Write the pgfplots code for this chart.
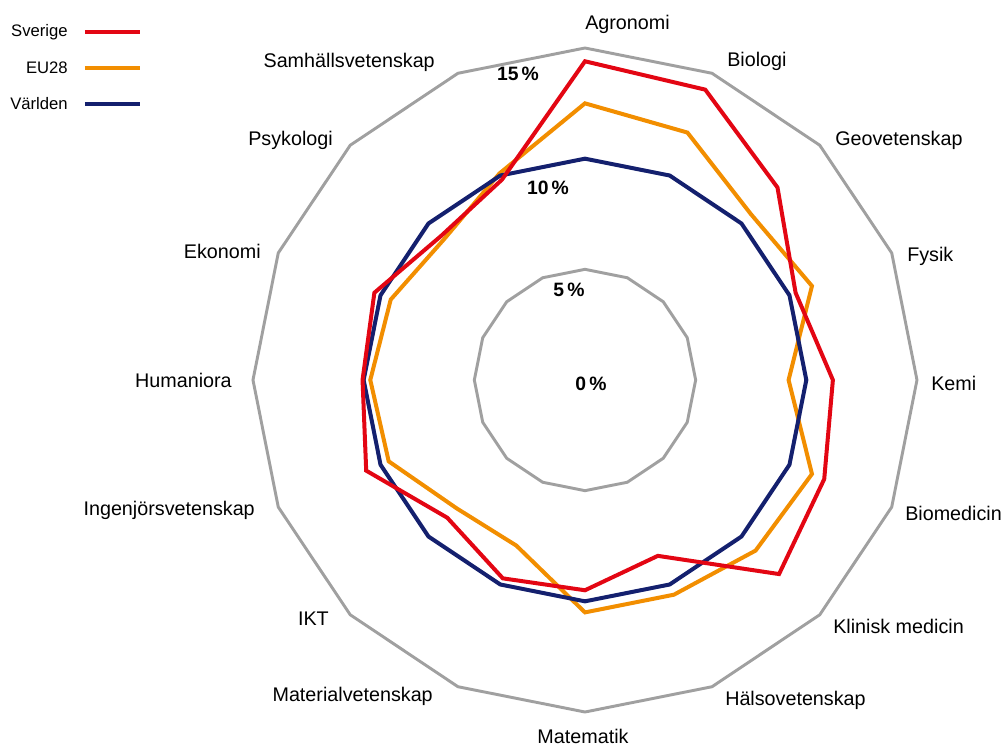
\documentclass[border=0pt]{standalone}
\usepackage{fontspec}
\setmainfont{Liberation Sans}
\usepackage{pgfplots}
\pgfplotsset{compat=1.18}
\usepgfplotslibrary{polar}
\definecolor{sred}{RGB}{227,6,19}
\definecolor{sorange}{RGB}{242,142,0}
\definecolor{snavy}{RGB}{20,32,110}
\definecolor{sgrey}{RGB}{160,160,160}
\begin{document}
\begin{tikzpicture}
\begin{scope}[x=0.75pt,y=-0.75pt]
\useasboundingbox (-585,-380) rectangle (419,366);
\end{scope}
\begin{polaraxis}[at={(0,0)}, anchor=center, hide axis, clip=false,
  width=498pt, height=498pt, scale only axis, ymin=0, ymax=15]
% grid rings (15 % and 5 %)
\addplot[sgrey, line width=2.2pt, line join=miter, no marks] coordinates {
(90,15) (67.5,15) (45,15) (22.5,15) (0,15) (337.5,15) (315,15) (292.5,15) (270,15)
(247.5,15) (225,15) (202.5,15) (180,15) (157.5,15) (135,15) (112.5,15) (90,15) (67.5,15)};
\addplot[sgrey, line width=2.2pt, line join=miter, no marks] coordinates {
(90,5) (67.5,5) (45,5) (22.5,5) (0,5) (337.5,5) (315,5) (292.5,5) (270,5)
(247.5,5) (225,5) (202.5,5) (180,5) (157.5,5) (135,5) (112.5,5) (90,5) (67.5,5)};
% EU28
\addplot[sorange, line width=3pt, line join=miter, no marks] coordinates {
(90,12.5) (67.5,12.1) (45,10.6) (22.5,11.1) (0,9.2) (337.5,11.1) (315,10.9) (292.5,10.5) (270,10.5)
(247.5,8.1) (225,8.2) (202.5,9.6) (180,9.7) (157.5,9.5) (135,9.0) (112.5,10.1) (90,12.5) (67.5,12.1)};
% Världen
\addplot[snavy, line width=3pt, line join=miter, no marks] coordinates {
(90,10.0) (67.5,10.0) (45,10.0) (22.5,10.0) (0,10.0) (337.5,10.0) (315,10.0) (292.5,10.0) (270,10.0)
(247.5,10.0) (225,10.0) (202.5,10.0) (180,10.0) (157.5,10.0) (135,10.0) (112.5,10.0) (90,10.0) (67.5,10.0)};
% Sverige
\addplot[sred, line width=3pt, line join=miter, no marks] coordinates {
(90,14.4) (67.5,14.2) (45,12.3) (22.5,10.3) (0,11.2) (337.5,11.7) (315,12.4) (292.5,8.6) (270,9.5)
(247.5,9.7) (225,8.8) (202.5,10.7) (180,10.05) (157.5,10.3) (135,9.2) (112.5,9.8) (90,14.4) (67.5,14.2)};
\end{polaraxis}
\begin{scope}[x=0.75pt,y=-0.75pt,font=\fontsize{14.8}{17}\selectfont,inner sep=0pt]
\node[anchor=west] at (0,-356) {Agronomi};
\node[anchor=west] at (142,-319) {Biologi};
\node[anchor=west] at (250,-240) {Geovetenskap};
\node[anchor=west] at (322,-124) {Fysik};
\node[anchor=west] at (346,3) {Kemi};
\node[anchor=west] at (320,133) {Biomedicin};
\node[anchor=west] at (248,246) {Klinisk medicin};
\node[anchor=west] at (140,320) {Hälsovetenskap};
\node[anchor=base] at (-2,363) {Matematik};
\node[anchor=east] at (-152,316) {Materialvetenskap};
\node[anchor=east] at (-256,239) {IKT};
\node[anchor=east] at (-330,130) {Ingenjörsvetenskap};
\node[anchor=east] at (-353,0) {Humaniora};
\node[anchor=east] at (-324,-129) {Ekonomi};
\node[anchor=east] at (-252,-240) {Psykologi};
\node[anchor=east] at (-150,-318) {Samhällsvetenskap};
\end{scope}
\begin{scope}[x=0.75pt,y=-0.75pt,font=\fontsize{14.5}{17}\selectfont\bfseries,inner sep=0pt]
\node at (-67,-306) {15\,\%};
\node at (-37,-192) {10\,\%};
\node at (-16,-90) {5\,\%};
\node at (6,4) {0\,\%};
\end{scope}
\begin{scope}[x=0.75pt,y=-0.75pt,font=\fontsize{12.5}{15}\selectfont,inner sep=0pt]
\node[anchor=east] at (-517,-348) {Sverige};
\node[anchor=east] at (-517,-312) {EU28};
\node[anchor=east] at (-517,-276) {Världen};
\draw[sred, line width=3pt] (-500,-348) -- (-445,-348);
\draw[sorange, line width=3pt] (-500,-312) -- (-445,-312);
\draw[snavy, line width=3pt] (-500,-276) -- (-445,-276);
\end{scope}
\end{tikzpicture}
\end{document}
